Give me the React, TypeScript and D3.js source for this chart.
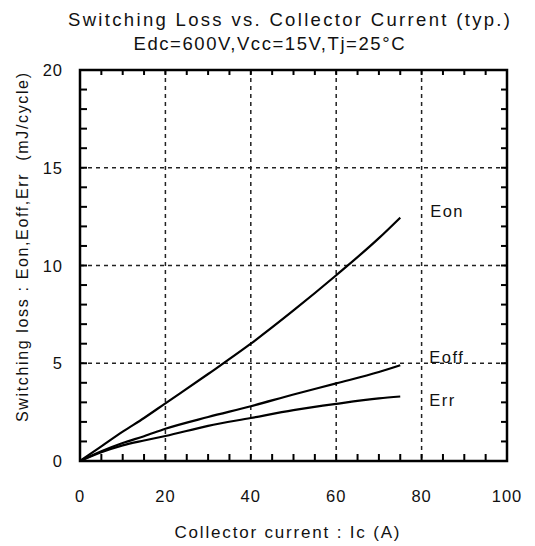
import React from 'react';
import * as d3 from 'd3';

// Collector current (A) sample points
const current = [0, 5, 10, 15, 20, 30, 40, 50, 60, 70, 75];
const eon = [0, 0.75, 1.5, 2.2, 2.95, 4.45, 6.0, 7.7, 9.5, 11.4, 12.45];
const eoff = [0, 0.5, 0.92, 1.27, 1.65, 2.25, 2.8, 3.4, 3.97, 4.55, 4.9];
const err = [0, 0.45, 0.8, 1.05, 1.28, 1.8, 2.2, 2.6, 2.92, 3.2, 3.3];

const xTicks = [0, 20, 40, 60, 80, 100];
const yTicks = [0, 5, 10, 15, 20];
const xMinor = d3.range(0, 101, 5);
const yMinor = d3.range(0, 21, 1);

const seriesLabels = [
  { name: 'Eon', values: eon, lx: 82, ly: 12.5 },
  { name: 'Eoff', values: eoff, lx: 81.8, ly: 5.0 },
  { name: 'Err', values: err, lx: 81.8, ly: 2.8 },
];

const W = 535;
const H = 546;
const margin = { top: 70, right: 28, bottom: 85, left: 80 };
const font = '"Liberation Sans", Arial, sans-serif';

export default function App() {
  const x = d3.scaleLinear().domain([0, 100]).range([margin.left, W - margin.right]);
  const y = d3.scaleLinear().domain([0, 20]).range([H - margin.bottom, margin.top]);
  const x0 = x(0), x1 = x(100), y0 = y(0), y1 = y(20);

  const line = d3.line<number>()
    .x((_, i) => x(current[i]))
    .y(d => y(d))
    .curve(d3.curveMonotoneX);

  return (
    <svg width={W} height={H} style={{ position: 'absolute', left: 0, top: 0, background: '#fff' }}
      fontFamily={font}>
      {/* titles */}
      <text x={289} y={26} textAnchor="middle" fontSize={18.5} fill="#111"
        textLength={442} lengthAdjust="spacing">Switching Loss vs. Collector Current (typ.)</text>
      <text x={269} y={50} textAnchor="middle" fontSize={18.5} fill="#111"
        textLength={271} lengthAdjust="spacing">Edc=600V,Vcc=15V,Tj=25°C</text>

      {/* grid */}
      {xTicks.slice(1, -1).map(t => (
        <line key={'gx' + t} x1={x(t)} x2={x(t)} y1={y1} y2={y0}
          stroke="#222" strokeWidth={1.5} strokeDasharray="4,4" />
      ))}
      {yTicks.slice(1, -1).map(t => (
        <line key={'gy' + t} x1={x0} x2={x1} y1={y(t)} y2={y(t)}
          stroke="#222" strokeWidth={1.5} strokeDasharray="4,4" />
      ))}

      {/* minor ticks */}
      {xMinor.map(t => (
        <g key={'mx' + t}>
          <line x1={x(t)} x2={x(t)} y1={y0} y2={y0 - 7} stroke="#000" strokeWidth={2} />
          <line x1={x(t)} x2={x(t)} y1={y1} y2={y1 + 5} stroke="#000" strokeWidth={2} />
        </g>
      ))}
      {yMinor.map(t => (
        <g key={'my' + t}>
          <line x1={x0} x2={x0 + 7} y1={y(t)} y2={y(t)} stroke="#000" strokeWidth={2} />
          <line x1={x1} x2={x1 - 6} y1={y(t)} y2={y(t)} stroke="#000" strokeWidth={2} />
        </g>
      ))}

      {/* frame */}
      <rect x={x0} y={y1} width={x1 - x0} height={y0 - y1} fill="none" stroke="#000" strokeWidth={2.5} />

      {/* tick labels */}
      {xTicks.map(t => (
        <text key={'tx' + t} x={x(t)} y={y0 + 41} textAnchor="middle" fontSize={16.5}
          letterSpacing={1} fill="#111">{t}</text>
      ))}
      {yTicks.map(t => (
        <text key={'ty' + t} x={x0 - 17} y={y(t) + 6} textAnchor="end" fontSize={16.5}
          letterSpacing={1} fill="#111">{t}</text>
      ))}

      {/* axis titles */}
      <text x={287} y={538} textAnchor="middle" fontSize={17} fill="#111"
        textLength={225} lengthAdjust="spacing">Collector current : Ic  (A)</text>
      <text transform={`translate(28,${247.5}) rotate(-90)`} textAnchor="middle" fontSize={16} fill="#111"
        textLength={349} lengthAdjust="spacing" style={{ whiteSpace: 'pre' }}>Switching loss : Eon,Eoff,Err  (mJ/cycle)</text>

      {/* curves */}
      {seriesLabels.map(s => (
        <g key={s.name}>
          <path d={line(s.values) || ''} fill="none" stroke="#000" strokeWidth={2.2} />
          <text x={x(s.lx)} y={y(s.ly)} fontSize={16.5} letterSpacing={1.5} fill="#111">{s.name}</text>
        </g>
      ))}
    </svg>
  );
}
